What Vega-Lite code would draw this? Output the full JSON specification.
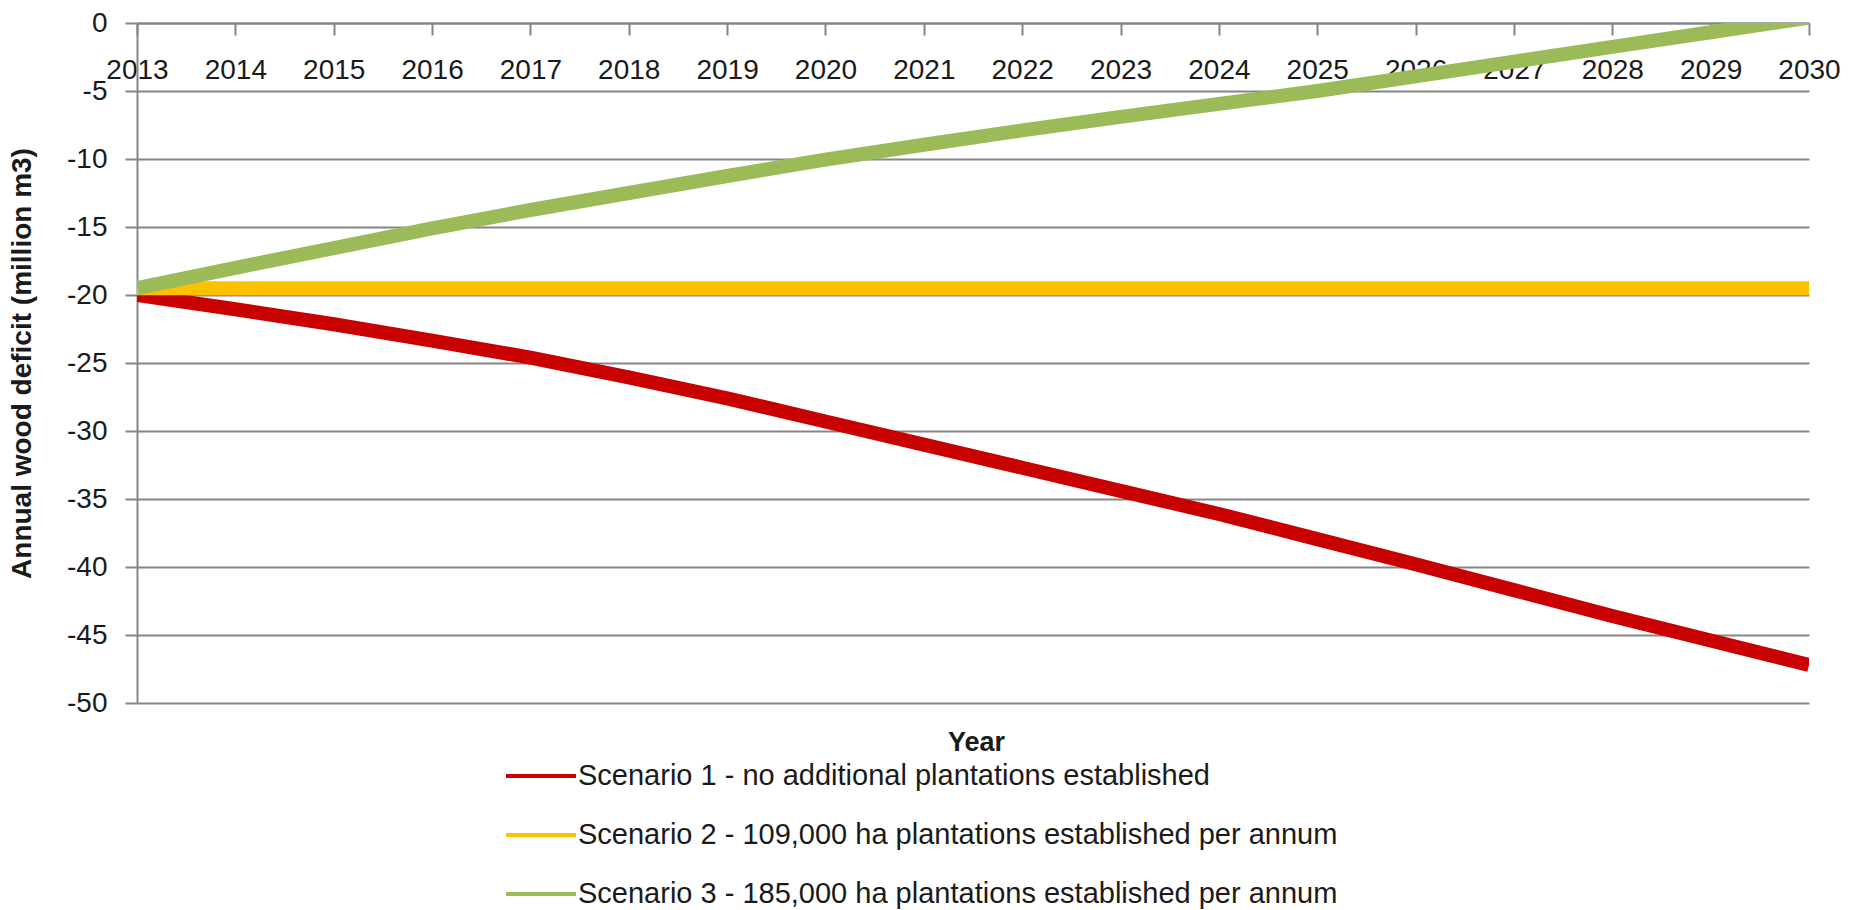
{
  "$schema": "https://vega.github.io/schema/vega-lite/v6.json",
  "width": 1672,
  "height": 680,
  "autosize": {"type": "none"},
  "padding": {"left": 137, "top": 23, "right": 52, "bottom": 207},
  "background": "white",
  "config": {"view": {"stroke": null}},
  "data": {
    "values": [
      {"year": 2013, "value": -20.0, "scenario": "Scenario 1 - no additional plantations established"},
      {"year": 2014, "value": -21.05, "scenario": "Scenario 1 - no additional plantations established"},
      {"year": 2015, "value": -22.15, "scenario": "Scenario 1 - no additional plantations established"},
      {"year": 2016, "value": -23.35, "scenario": "Scenario 1 - no additional plantations established"},
      {"year": 2017, "value": -24.6, "scenario": "Scenario 1 - no additional plantations established"},
      {"year": 2018, "value": -26.05, "scenario": "Scenario 1 - no additional plantations established"},
      {"year": 2019, "value": -27.6, "scenario": "Scenario 1 - no additional plantations established"},
      {"year": 2020, "value": -29.3, "scenario": "Scenario 1 - no additional plantations established"},
      {"year": 2021, "value": -31.0, "scenario": "Scenario 1 - no additional plantations established"},
      {"year": 2022, "value": -32.7, "scenario": "Scenario 1 - no additional plantations established"},
      {"year": 2023, "value": -34.4, "scenario": "Scenario 1 - no additional plantations established"},
      {"year": 2024, "value": -36.1, "scenario": "Scenario 1 - no additional plantations established"},
      {"year": 2025, "value": -37.95, "scenario": "Scenario 1 - no additional plantations established"},
      {"year": 2026, "value": -39.8, "scenario": "Scenario 1 - no additional plantations established"},
      {"year": 2027, "value": -41.7, "scenario": "Scenario 1 - no additional plantations established"},
      {"year": 2028, "value": -43.6, "scenario": "Scenario 1 - no additional plantations established"},
      {"year": 2029, "value": -45.4, "scenario": "Scenario 1 - no additional plantations established"},
      {"year": 2030, "value": -47.2, "scenario": "Scenario 1 - no additional plantations established"},
      {"year": 2013, "value": -19.5, "scenario": "Scenario 2 - 109,000 ha plantations established per annum"},
      {"year": 2014, "value": -19.5, "scenario": "Scenario 2 - 109,000 ha plantations established per annum"},
      {"year": 2015, "value": -19.5, "scenario": "Scenario 2 - 109,000 ha plantations established per annum"},
      {"year": 2016, "value": -19.5, "scenario": "Scenario 2 - 109,000 ha plantations established per annum"},
      {"year": 2017, "value": -19.5, "scenario": "Scenario 2 - 109,000 ha plantations established per annum"},
      {"year": 2018, "value": -19.5, "scenario": "Scenario 2 - 109,000 ha plantations established per annum"},
      {"year": 2019, "value": -19.5, "scenario": "Scenario 2 - 109,000 ha plantations established per annum"},
      {"year": 2020, "value": -19.5, "scenario": "Scenario 2 - 109,000 ha plantations established per annum"},
      {"year": 2021, "value": -19.5, "scenario": "Scenario 2 - 109,000 ha plantations established per annum"},
      {"year": 2022, "value": -19.5, "scenario": "Scenario 2 - 109,000 ha plantations established per annum"},
      {"year": 2023, "value": -19.5, "scenario": "Scenario 2 - 109,000 ha plantations established per annum"},
      {"year": 2024, "value": -19.5, "scenario": "Scenario 2 - 109,000 ha plantations established per annum"},
      {"year": 2025, "value": -19.5, "scenario": "Scenario 2 - 109,000 ha plantations established per annum"},
      {"year": 2026, "value": -19.5, "scenario": "Scenario 2 - 109,000 ha plantations established per annum"},
      {"year": 2027, "value": -19.5, "scenario": "Scenario 2 - 109,000 ha plantations established per annum"},
      {"year": 2028, "value": -19.5, "scenario": "Scenario 2 - 109,000 ha plantations established per annum"},
      {"year": 2029, "value": -19.5, "scenario": "Scenario 2 - 109,000 ha plantations established per annum"},
      {"year": 2030, "value": -19.5, "scenario": "Scenario 2 - 109,000 ha plantations established per annum"},
      {"year": 2013, "value": -19.5, "scenario": "Scenario 3 - 185,000 ha plantations established per annum"},
      {"year": 2014, "value": -18.0, "scenario": "Scenario 3 - 185,000 ha plantations established per annum"},
      {"year": 2015, "value": -16.55, "scenario": "Scenario 3 - 185,000 ha plantations established per annum"},
      {"year": 2016, "value": -15.1, "scenario": "Scenario 3 - 185,000 ha plantations established per annum"},
      {"year": 2017, "value": -13.75, "scenario": "Scenario 3 - 185,000 ha plantations established per annum"},
      {"year": 2018, "value": -12.5, "scenario": "Scenario 3 - 185,000 ha plantations established per annum"},
      {"year": 2019, "value": -11.25, "scenario": "Scenario 3 - 185,000 ha plantations established per annum"},
      {"year": 2020, "value": -10.05, "scenario": "Scenario 3 - 185,000 ha plantations established per annum"},
      {"year": 2021, "value": -8.95, "scenario": "Scenario 3 - 185,000 ha plantations established per annum"},
      {"year": 2022, "value": -7.9, "scenario": "Scenario 3 - 185,000 ha plantations established per annum"},
      {"year": 2023, "value": -6.9, "scenario": "Scenario 3 - 185,000 ha plantations established per annum"},
      {"year": 2024, "value": -5.95, "scenario": "Scenario 3 - 185,000 ha plantations established per annum"},
      {"year": 2025, "value": -5.0, "scenario": "Scenario 3 - 185,000 ha plantations established per annum"},
      {"year": 2026, "value": -3.92, "scenario": "Scenario 3 - 185,000 ha plantations established per annum"},
      {"year": 2027, "value": -2.84, "scenario": "Scenario 3 - 185,000 ha plantations established per annum"},
      {"year": 2028, "value": -1.76, "scenario": "Scenario 3 - 185,000 ha plantations established per annum"},
      {"year": 2029, "value": -0.68, "scenario": "Scenario 3 - 185,000 ha plantations established per annum"},
      {"year": 2030, "value": 0.4, "scenario": "Scenario 3 - 185,000 ha plantations established per annum"}
    ]
  },
  "mark": {"type": "line", "strokeWidth": 14, "strokeCap": "butt", "strokeJoin": "round", "clip": true},
  "encoding": {
    "x": {
      "field": "year",
      "type": "quantitative",
      "scale": {"domain": [2013, 2030], "nice": false, "zero": false},
      "axis": {
        "orient": "bottom",
        "offset": -680,
        "values": [2013, 2014, 2015, 2016, 2017, 2018, 2019, 2020, 2021, 2022, 2023, 2024, 2025, 2026, 2027, 2028, 2029, 2030],
        "format": "d",
        "grid": false,
        "labelFont": "Liberation Sans",
        "labelFontSize": 28,
        "labelColor": "#1a1a1a",
        "labelPadding": 21,
        "labelFlush": false,
        "labelOverlap": false,
        "tickSize": 12,
        "tickWidth": 2,
        "tickColor": "#868686",
        "domainColor": "#868686",
        "domainWidth": 2,
        "title": "Year",
        "titleFont": "Liberation Sans",
        "titleFontSize": 27,
        "titleFontWeight": "bold",
        "titleColor": "#1a1a1a",
        "titleX": 839,
        "titleY": 719,
        "titleBaseline": "middle"
      }
    },
    "y": {
      "field": "value",
      "type": "quantitative",
      "scale": {"domain": [-50, 0], "nice": false, "zero": false},
      "axis": {
        "values": [0, -5, -10, -15, -20, -25, -30, -35, -40, -45, -50],
        "labelExpr": "datum.value < 0 ? '-' + abs(datum.value) : '' + datum.value",
        "grid": true,
        "gridColor": "#868686",
        "gridWidth": 2,
        "domainColor": "#868686",
        "domainWidth": 2,
        "tickColor": "#868686",
        "tickWidth": 2,
        "tickSize": 12,
        "labelFont": "Liberation Sans",
        "labelFontSize": 28,
        "labelColor": "#1a1a1a",
        "labelPadding": 18,
        "labelOverlap": false,
        "labelFlush": false,
        "title": "Annual wood deficit (million m3)",
        "titleFont": "Liberation Sans",
        "titleFontSize": 28,
        "titleFontWeight": "bold",
        "titleColor": "#1a1a1a",
        "titleX": -115,
        "titleY": 340,
        "titleBaseline": "middle",
        "titleAlign": "center"
      }
    },
    "color": {
      "field": "scenario",
      "type": "nominal",
      "scale": {
        "domain": [
          "Scenario 1 - no additional plantations established",
          "Scenario 2 - 109,000 ha plantations established per annum",
          "Scenario 3 - 185,000 ha plantations established per annum"
        ],
        "range": ["#C80000", "#FFC000", "#9BBB59"]
      },
      "legend": {
        "orient": "none",
        "legendX": 367,
        "legendY": 716,
        "direction": "vertical",
        "title": null,
        "symbolType": "stroke",
        "symbolStrokeWidth": 4,
        "symbolSize": 4900,
        "labelFont": "Liberation Sans",
        "labelFontSize": 29,
        "labelColor": "#1a1a1a",
        "labelLimit": 0,
        "labelOffset": 0,
        "rowPadding": 7
      }
    }
  }
}
